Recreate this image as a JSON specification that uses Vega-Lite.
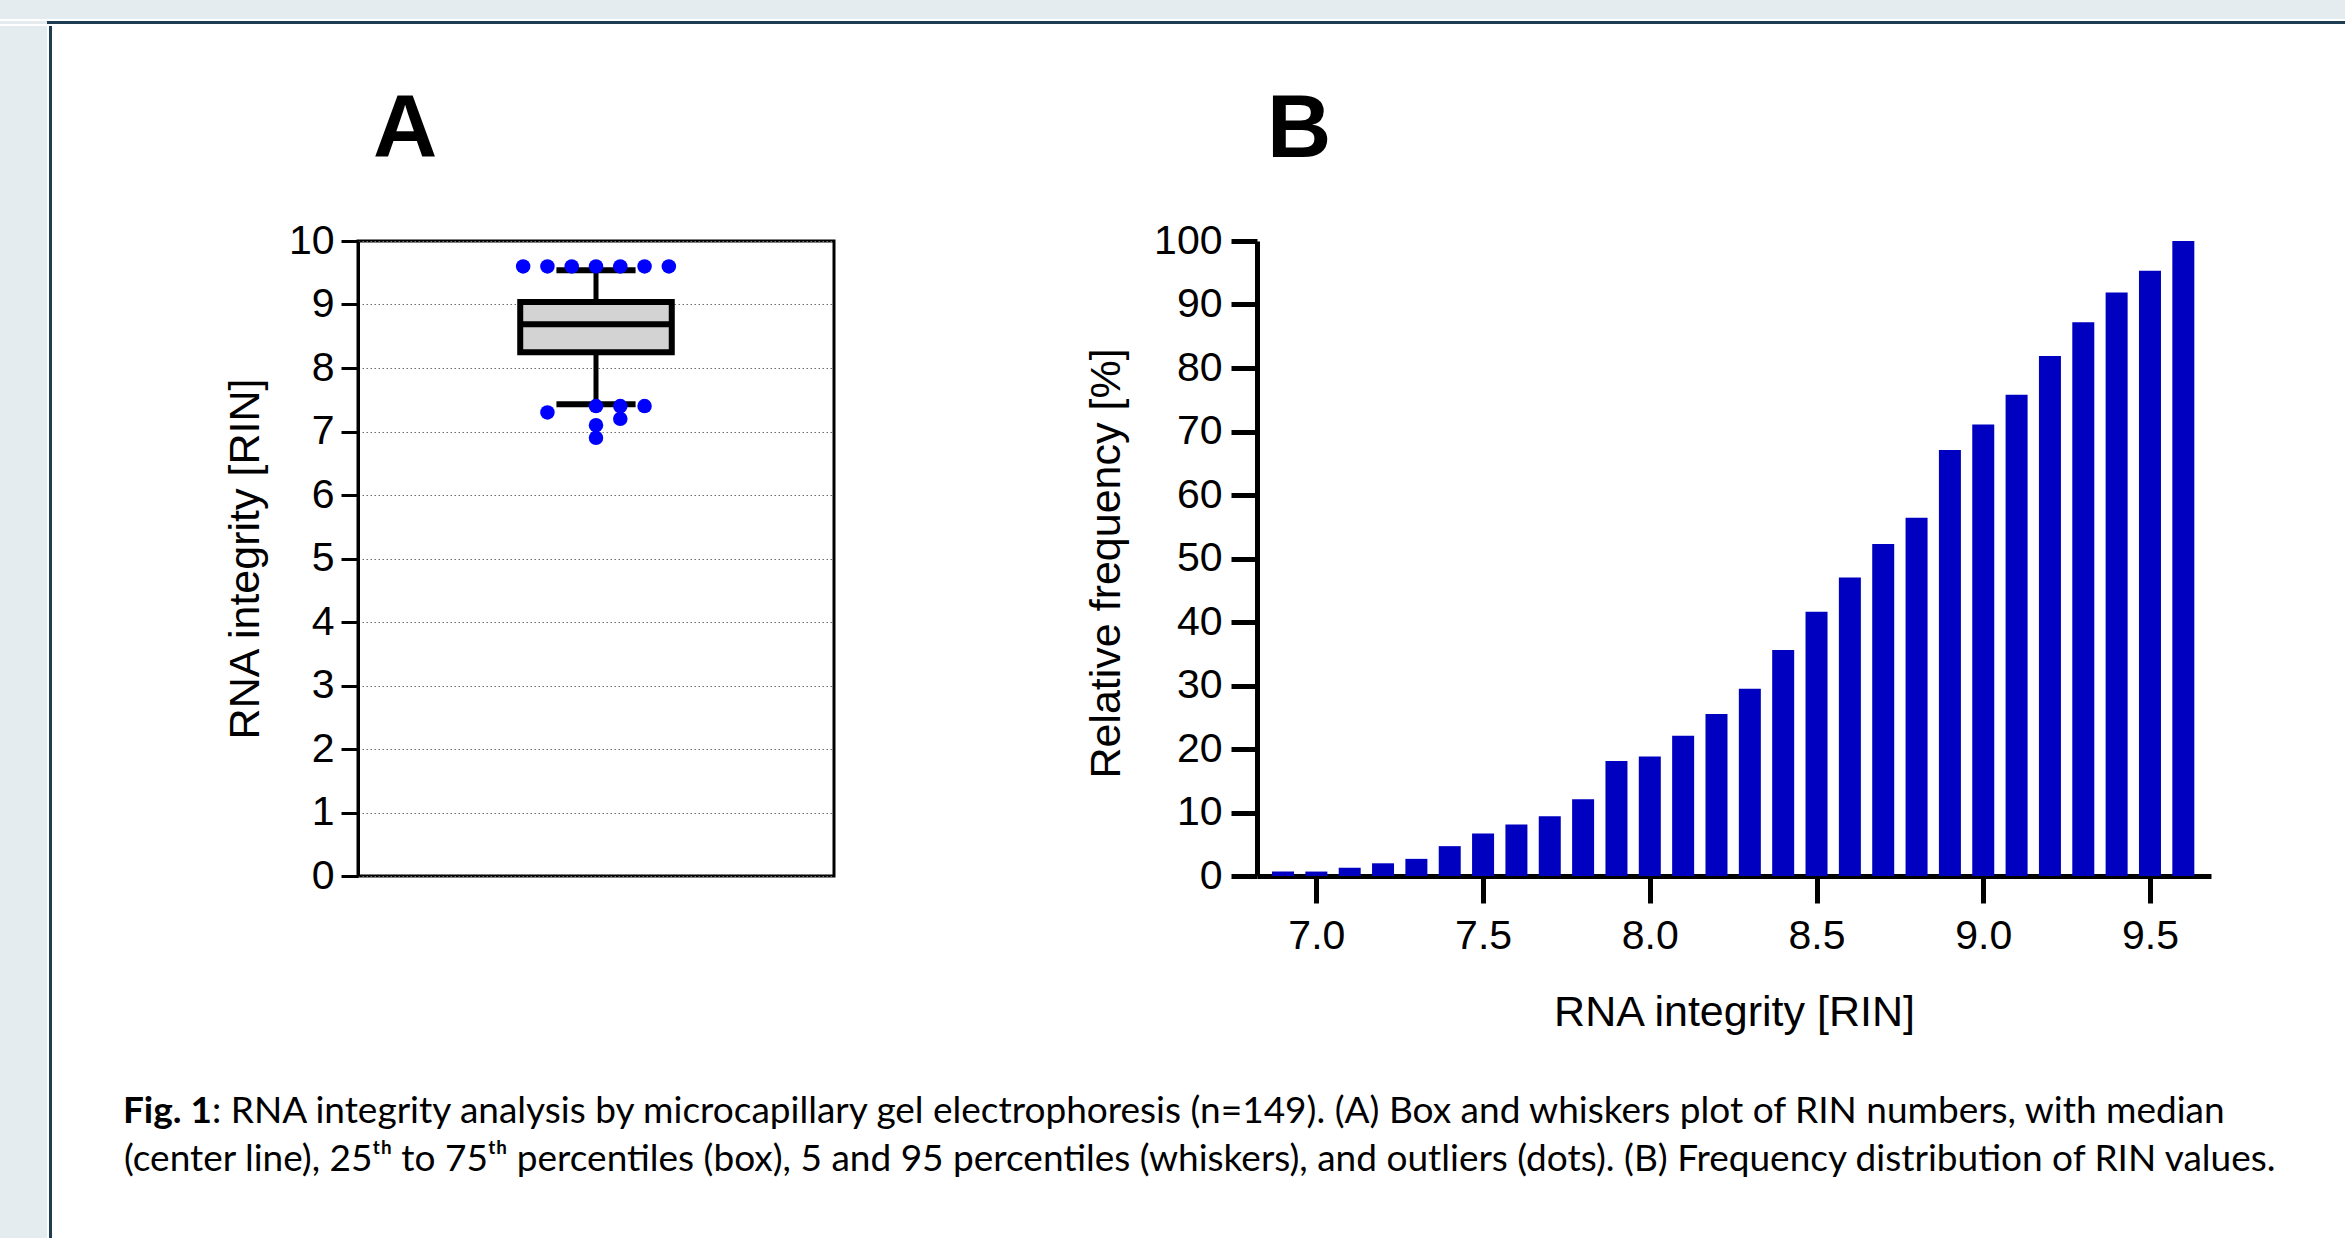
{
  "$schema": "https://vega.github.io/schema/vega-lite/v6.json",
  "padding": 0,
  "background": "white",
  "spacing": 0,
  "bounds": "full",
  "config": {"view": {"stroke": null}},
  "datasets": {
    "summary": [{"p5": 7.43, "q1": 8.25, "median": 8.69, "q3": 9.04, "p95": 9.54}],
    "outliers": [
      {"rin": 9.6, "slot": -3}, {"rin": 9.6, "slot": -2}, {"rin": 9.6, "slot": -1}, {"rin": 9.6, "slot": 0},
      {"rin": 9.6, "slot": 1}, {"rin": 9.6, "slot": 2}, {"rin": 9.6, "slot": 3},
      {"rin": 7.4, "slot": 0}, {"rin": 7.4, "slot": 1}, {"rin": 7.4, "slot": 2}, {"rin": 7.3, "slot": -2},
      {"rin": 7.2, "slot": 1}, {"rin": 7.1, "slot": 0}, {"rin": 6.9, "slot": 0}
    ],
    "freq": [
      {"rin": 6.9, "pct": 0.7}, {"rin": 7.0, "pct": 0.7}, {"rin": 7.1, "pct": 1.3}, {"rin": 7.2, "pct": 2.0},
      {"rin": 7.3, "pct": 2.7}, {"rin": 7.4, "pct": 4.7}, {"rin": 7.5, "pct": 6.7}, {"rin": 7.6, "pct": 8.1},
      {"rin": 7.7, "pct": 9.4}, {"rin": 7.8, "pct": 12.1}, {"rin": 7.9, "pct": 18.1}, {"rin": 8.0, "pct": 18.8},
      {"rin": 8.1, "pct": 22.1}, {"rin": 8.2, "pct": 25.5}, {"rin": 8.3, "pct": 29.5}, {"rin": 8.4, "pct": 35.6},
      {"rin": 8.5, "pct": 41.6}, {"rin": 8.6, "pct": 47.0}, {"rin": 8.7, "pct": 52.3}, {"rin": 8.8, "pct": 56.4},
      {"rin": 8.9, "pct": 67.1}, {"rin": 9.0, "pct": 71.1}, {"rin": 9.1, "pct": 75.8}, {"rin": 9.2, "pct": 81.9},
      {"rin": 9.3, "pct": 87.2}, {"rin": 9.4, "pct": 91.9}, {"rin": 9.5, "pct": 95.3}, {"rin": 9.6, "pct": 100}
    ]
  },
  "vconcat": [
    {"width": 2345, "height": 19, "data": {"values": [{}]}, "mark": {"type": "point", "opacity": 0}, "view": {"fill": "#e4ecf0", "stroke": null}},
    {
      "spacing": 0, "bounds": "flush",
      "hconcat": [
        {"width": 47, "height": 3, "data": {"values": [{}]}, "mark": {"type": "point", "opacity": 0}, "view": {"fill": "#e4ecf0", "stroke": null}},
        {"width": 2298, "height": 3, "data": {"values": [{}]}, "mark": {"type": "point", "opacity": 0}, "view": {"fill": "#1e3d52", "stroke": null}}
      ]
    },
    {
      "spacing": 0, "bounds": "full",
      "hconcat": [
        {"width": 47, "height": 1216, "data": {"values": [{}]}, "mark": {"type": "point", "opacity": 0}, "view": {"fill": "#e4ecf0", "stroke": null}},
        {"width": 3, "height": 1216, "data": {"values": [{}]}, "mark": {"type": "point", "opacity": 0}, "view": {"fill": "#1e3d52", "stroke": null}},
        {
          "spacing": 0, "bounds": "full",
          "vconcat": [
            {"width": 10, "height": 58, "data": {"values": [{}]}, "mark": {"type": "point", "opacity": 0}, "view": {"stroke": null}},
            {
              "spacing": 0, "bounds": "flush",
              "hconcat": [
                {"width": 304, "height": 635, "data": {"values": [{}]}, "mark": {"type": "point", "opacity": 0}, "view": {"stroke": null}},
                {
                  "width": 476, "height": 635,
                  "title": {"text": "A", "anchor": "start", "frame": "group", "dx": 15, "offset": -26, "font": "Liberation Sans", "fontSize": 89, "fontWeight": "bold", "color": "black", "baseline": "alphabetic"},
                  "view": {"stroke": "black", "strokeWidth": 3},
                  "layer": [
                    {
                      "data": {"name": "summary"},
                      "mark": {"type": "rule", "color": "black", "strokeWidth": 5},
                      "encoding": {
                        "x": {"datum": 0, "type": "quantitative", "scale": {"domain": [-9.8, 9.8], "nice": false, "zero": false}, "axis": null},
                        "y": {"field": "q3", "type": "quantitative", "title": "RNA integrity [RIN]", "scale": {"domain": [0, 10], "nice": false, "zero": false},
                          "axis": {
                            "values": [0, 1, 2, 3, 4, 5, 6, 7, 8, 9, 10], "format": "d",
                            "titleFont": "Liberation Sans", "titleFontSize": 43, "titleFontWeight": "normal", "titleColor": "black",
                            "titleAngle": -90, "titleAlign": "center", "titleBaseline": "alphabetic", "titleX": -100, "titleY": 317.5,
                            "labelFont": "Liberation Sans", "labelFontSize": 41, "labelColor": "black", "labelPadding": 7, "labelFlush": false,
                            "tickSize": 17, "tickWidth": 3, "tickColor": "black",
                            "domainColor": "black", "domainWidth": 3,
                            "grid": true, "gridColor": "#707070", "gridDash": [1.5, 2.5], "gridWidth": 1.2
                          }},
                        "y2": {"field": "p95"}
                      }
                    },
                    {
                      "data": {"name": "summary"},
                      "mark": {"type": "rule", "color": "black", "strokeWidth": 5},
                      "encoding": {
                        "x": {"datum": 0, "type": "quantitative", "scale": {"domain": [-9.8, 9.8], "nice": false, "zero": false}, "axis": null},
                        "y": {"field": "p5", "type": "quantitative", "title": "RNA integrity [RIN]", "scale": {"domain": [0, 10], "nice": false, "zero": false}},
                        "y2": {"field": "q1"}
                      }
                    },
                    {
                      "data": {"name": "summary"},
                      "mark": {"type": "rule", "color": "black", "strokeWidth": 6},
                      "encoding": {
                        "x": {"datum": -1.63, "type": "quantitative", "scale": {"domain": [-9.8, 9.8], "nice": false, "zero": false}, "axis": null},
                        "x2": {"datum": 1.63},
                        "y": {"field": "p95", "type": "quantitative", "title": "RNA integrity [RIN]", "scale": {"domain": [0, 10], "nice": false, "zero": false}}
                      }
                    },
                    {
                      "data": {"name": "summary"},
                      "mark": {"type": "rule", "color": "black", "strokeWidth": 6},
                      "encoding": {
                        "x": {"datum": -1.63, "type": "quantitative", "scale": {"domain": [-9.8, 9.8], "nice": false, "zero": false}, "axis": null},
                        "x2": {"datum": 1.63},
                        "y": {"field": "p5", "type": "quantitative", "title": "RNA integrity [RIN]", "scale": {"domain": [0, 10], "nice": false, "zero": false}}
                      }
                    },
                    {
                      "data": {"name": "summary"},
                      "mark": {"type": "rect", "fill": "#d3d3d3", "stroke": "black", "strokeWidth": 6},
                      "encoding": {
                        "x": {"datum": -3.12, "type": "quantitative", "scale": {"domain": [-9.8, 9.8], "nice": false, "zero": false}, "axis": null},
                        "x2": {"datum": 3.12},
                        "y": {"field": "q1", "type": "quantitative", "title": "RNA integrity [RIN]", "scale": {"domain": [0, 10], "nice": false, "zero": false}},
                        "y2": {"field": "q3"}
                      }
                    },
                    {
                      "data": {"name": "summary"},
                      "mark": {"type": "rule", "color": "black", "strokeWidth": 6},
                      "encoding": {
                        "x": {"datum": -3.12, "type": "quantitative", "scale": {"domain": [-9.8, 9.8], "nice": false, "zero": false}, "axis": null},
                        "x2": {"datum": 3.12},
                        "y": {"field": "median", "type": "quantitative", "title": "RNA integrity [RIN]", "scale": {"domain": [0, 10], "nice": false, "zero": false}}
                      }
                    },
                    {
                      "data": {"name": "outliers"},
                      "mark": {"type": "circle", "color": "#0000ff", "opacity": 1, "size": 210},
                      "encoding": {
                        "x": {"field": "slot", "type": "quantitative", "scale": {"domain": [-9.8, 9.8], "nice": false, "zero": false}, "axis": null},
                        "y": {"field": "rin", "type": "quantitative", "title": "RNA integrity [RIN]", "scale": {"domain": [0, 10], "nice": false, "zero": false}}
                      }
                    }
                  ]
                },
                {"width": 423, "height": 635, "data": {"values": [{}]}, "mark": {"type": "point", "opacity": 0}, "view": {"stroke": null}},
                {
                  "width": 954, "height": 635,
                  "title": {"text": "B", "anchor": "start", "frame": "group", "dx": 10, "offset": -26, "font": "Liberation Sans", "fontSize": 89, "fontWeight": "bold", "color": "black", "baseline": "alphabetic"},
                  "view": {"stroke": null},
                  "data": {"name": "freq"},
                  "mark": {"type": "bar", "color": "#0000c0", "size": 22},
                  "encoding": {
                    "x": {"field": "rin", "type": "quantitative", "title": "RNA integrity [RIN]",
                      "scale": {"domain": [6.837, 9.668], "nice": false, "zero": false},
                      "axis": {
                        "values": [7, 7.5, 8, 8.5, 9, 9.5], "format": ".1f",
                        "titleFont": "Liberation Sans", "titleFontSize": 43, "titleFontWeight": "normal", "titleColor": "black",
                        "titleAlign": "center", "titleBaseline": "alphabetic", "titleX": 477, "titleY": 149,
                        "labelFont": "Liberation Sans", "labelFontSize": 41, "labelColor": "black", "labelPadding": 13, "labelFlush": false, "labelOverlap": false,
                        "tickSize": 27, "tickWidth": 5, "tickColor": "black",
                        "domainColor": "black", "domainWidth": 5,
                        "grid": false
                      }},
                    "y": {"field": "pct", "type": "quantitative", "title": "Relative frequency [%]",
                      "scale": {"domain": [0, 100], "nice": false, "zero": true},
                      "axis": {
                        "values": [0, 10, 20, 30, 40, 50, 60, 70, 80, 90, 100],
                        "titleFont": "Liberation Sans", "titleFontSize": 43, "titleFontWeight": "normal", "titleColor": "black",
                        "titleAngle": -90, "titleAlign": "center", "titleBaseline": "alphabetic", "titleX": -138, "titleY": 322,
                        "labelFont": "Liberation Sans", "labelFontSize": 41, "labelColor": "black", "labelPadding": 9, "labelFlush": false,
                        "tickSize": 26, "tickWidth": 5, "tickColor": "black",
                        "domainColor": "black", "domainWidth": 5,
                        "grid": false
                      }}
                  }
                }
              ]
            },
            {"width": 10, "height": 54, "data": {"values": [{}]}, "mark": {"type": "point", "opacity": 0}, "view": {"stroke": null}},
            {
              "spacing": 0, "bounds": "flush",
              "hconcat": [
                {"width": 70, "height": 100, "data": {"values": [{}]}, "mark": {"type": "point", "opacity": 0}, "view": {"stroke": null}},
                {
                  "width": 2220, "height": 100,
                  "view": {"stroke": null},
                  "layer": [
                    {
                      "data": {"values": [{"line": 1, "text": "Fig. 1"}]},
                      "mark": {"type": "text", "font": "Lato, 'DejaVu Sans'", "fontSize": 37, "fontWeight": "bold", "align": "right", "baseline": "alphabetic", "color": "black", "x": 88},
                      "encoding": {
                        "y": {"field": "line", "type": "ordinal", "scale": {"type": "point", "domain": [1, 2], "range": [35, 83], "padding": 0}, "axis": null},
                        "text": {"field": "text"}
                      }
                    },
                    {
                      "data": {"values": [{"line": 1, "text": ": RNA integrity analysis by microcapillary gel electrophoresis (n=149). (A) Box and whiskers plot of RIN numbers, with median"}]},
                      "mark": {"type": "text", "font": "Lato, 'DejaVu Sans'", "fontSize": 37, "align": "left", "baseline": "alphabetic", "color": "black", "x": 88},
                      "encoding": {
                        "y": {"field": "line", "type": "ordinal", "scale": {"type": "point", "domain": [1, 2], "range": [35, 83], "padding": 0}, "axis": null},
                        "text": {"field": "text"}
                      }
                    },
                    {
                      "data": {"values": [{"line": 2, "text": "(center line), 25ᵗʰ to 75ᵗʰ percentiles (box), 5 and 95 percentiles (whiskers), and outliers (dots). (B) Frequency distribution of RIN values."}]},
                      "mark": {"type": "text", "font": "Lato, 'DejaVu Sans'", "fontSize": 37, "align": "left", "baseline": "alphabetic", "color": "black", "x": 0},
                      "encoding": {
                        "y": {"field": "line", "type": "ordinal", "scale": {"type": "point", "domain": [1, 2], "range": [35, 83], "padding": 0}, "axis": null},
                        "text": {"field": "text"}
                      }
                    }
                  ]
                }
              ]
            }
          ]
        }
      ]
    }
  ]
}
